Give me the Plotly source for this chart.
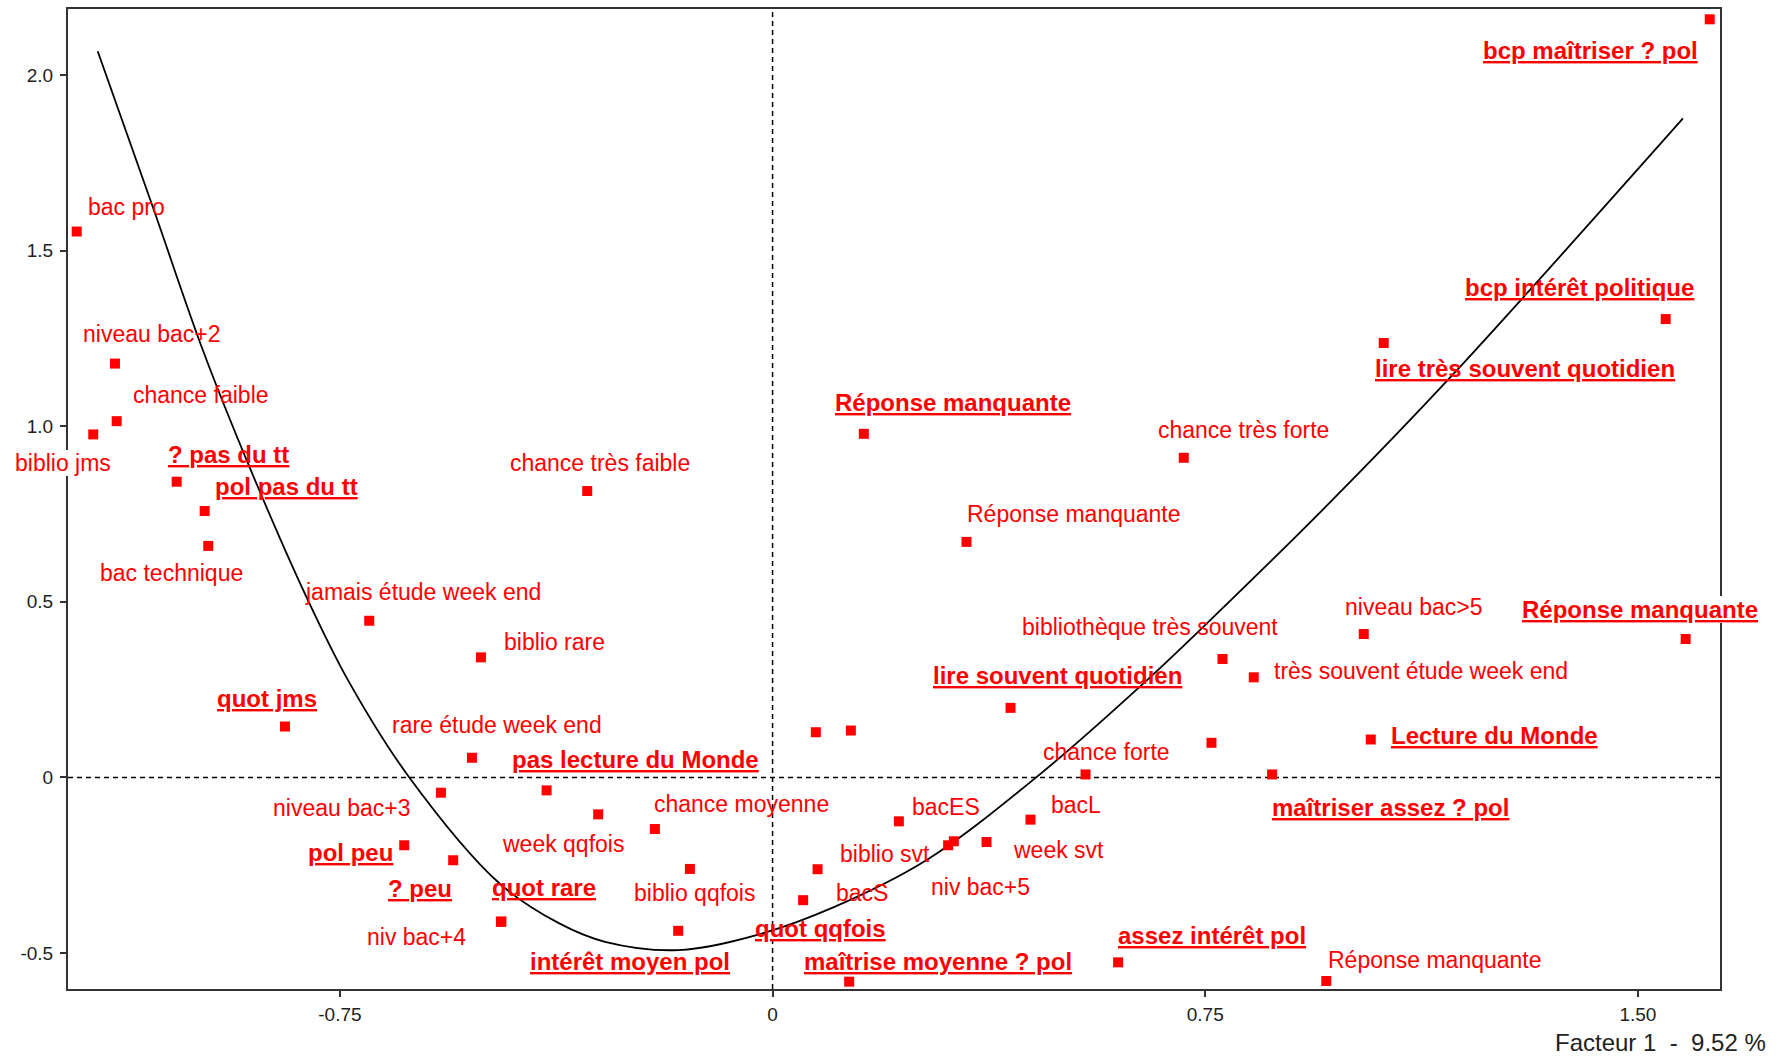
import plotly.graph_objects as go

# ---------------- data ----------------
# active variables (bold, underlined labels)
act_labels = ["? pas du tt", "pol pas du tt", "quot jms", "pas lecture du Monde", "pol peu",
              "? peu", "quot rare", "intérêt moyen pol", "Réponse manquante", "quot qqfois",
              "maîtrise moyenne ? pol", "lire souvent quotidien", "maîtriser assez ? pol",
              "assez intérêt pol", "lire très souvent quotidien", "Réponse manquante",
              "Lecture du Monde", "bcp intérêt politique", "bcp maîtriser ? pol"]
act_x = [-1.0329, -0.9844, -0.8452, -0.3917, -0.6385, -0.5536, -0.4700, -0.1636, 0.1582, 0.0530,
         0.1328, 0.4125, 0.8659, 0.5990, 1.0594, 1.5828, 1.0369, 1.5482, 1.6245]
act_y = [0.8418, 0.7585, 0.1449, -0.0369, -0.1932, -0.2358, -0.4100, -0.4366, 0.9781, -0.3494,
         -0.5815, 0.1980, 0.0085, -0.5264, 1.2367, 0.3940, 0.1080, 1.3048, 2.1582]

# illustrative variables (plain labels)
sup_labels = ["bac pro", "niveau bac+2", "chance faible", "biblio jms", "bac technique",
              "jamais étude week end", "chance très faible", "biblio rare", "rare étude week end",
              "niveau bac+3", "niv bac+4", "week qqfois", "chance moyenne", "biblio qqfois",
              "", "", "bacS", "Réponse manquante", "chance très forte",
              "bibliothèque très souvent", "très souvent étude week end", "", "chance forte",
              "bacES", "bacL", "biblio svt", "niv bac+5", "week svt", "Réponse manquante",
              "niveau bac>5"]
sup_x = [-1.2062, -1.1399, -1.1369, -1.1775, -0.9782, -0.6991, -0.3213, -0.5055, -0.5211,
         -0.5749, -0.4709, -0.3023, -0.2040, -0.1433, 0.0750, 0.1357, 0.0780, 0.3362, 0.7128,
         0.7799, 0.8341, 0.7608, 0.5425, 0.2189, 0.4471, 0.3043, 0.3142, 0.3709, 0.9598, 1.0248]
sup_y = [1.5540, 1.1781, 1.0142, 0.9764, 0.6591, 0.4460, 0.8153, 0.3418, 0.0560,
         -0.0435, -0.4111, -0.1051, -0.1469, -0.2605, 0.1287, 0.1335, -0.2614, 0.6705, 0.9099,
         0.3372, 0.2849, 0.0986, 0.0085, -0.1250, -0.1202, -0.1932, -0.1818, -0.1838, -0.5795, 0.4082]

# fitted curve, points
curve_x = [-1.1698, -1.0735, -0.9868, -0.9088, -0.8076, -0.7355, -0.6303, -0.4731, -0.3697,
           -0.2903, -0.1631, -0.0279, 0.1073, 0.2664, 0.4575, 0.6482, 0.7636, 0.9658, 1.1738,
           1.5781]
curve_y = [2.0673, 1.6202, 1.2131, 0.8920, 0.5122, 0.2756, 0.0014, -0.3020, -0.4156,
           -0.4679, -0.4915, -0.4489, -0.3685, -0.2358, 0.0009, 0.2756, 0.4554, 0.7821, 1.1372,
           1.8759]

x_ticks = [-0.75, 0, 0.75, 1.50]
x_tick_text = ["-0.75", "0", "0.75", "1.50"]
y_ticks = [-0.5, 0, 0.5, 1.0, 1.5, 2.0]
y_tick_text = ["-0.5", "0", "0.5", "1.0", "1.5", "2.0"]
axis_title = "Facteur 1\u00a0\u00a0-\u00a0\u00a09.52 %"

# ---------------- layout / label placement (pixels) ----------------
act_offsets = [(-8.7, -27.7), (10.3, -24), (-68.3, -28), (-35, -31), (-96.3, 7.7),
               (-65.3, 28), (-9.3, -34.4), (-148.3, 31), (-29, -31), (-48.3, 28.3),
               (-45.3, -20), (-77.7, -32.7), (-0.6, 32.7), (-0.6, -27.3), (-9, 25),
               (-163.7, -30), (20.7, -4), (-200.3, -31.7), (-226.7, 31)]
sup_offsets = [(11.3, -25), (-32, -30), (16, -26), (-78.3, 28.4), (-108.3, 26.7),
               (-64.3, -28.3), (-77.3, -28.3), (23, -15), (-80.3, -32.3),
               (-168, 15.7), (-134.3, 15), (-96.6, 29.3), (-0.7, -25.4), (-55.7, 23.6),
               (0, 0), (0, 0), (18, 24), (0.6, -28.3), (-25.7, -27.7),
               (-200, -31.6), (20.3, -6.7), (0, 0), (-43, -22.3),
               (13.3, -14.3), (21, -14.3), (-108.3, 8.3), (-23.3, 45.7), (26, 8.3), (2, -21),
               (-19, -26.6)]
act_white_bg = {15}
sup_white_bg = {3}

RED = "#ff0000"
FONT = "Liberation Sans, Arial, sans-serif"
X_RANGE = [-1.2213, 1.6423]
Y_RANGE = [-0.6023, 2.1875]

fig = go.Figure()

fig.add_trace(go.Scatter(x=curve_x, y=curve_y, mode="lines",
                         line=dict(color="black", width=1.8, shape="spline", smoothing=1.0),
                         hoverinfo="skip", showlegend=False))
fig.add_trace(go.Scatter(x=sup_x, y=sup_y, mode="markers", text=sup_labels,
                         marker=dict(symbol="square", size=10, color=RED),
                         showlegend=False))
fig.add_trace(go.Scatter(x=act_x, y=act_y, mode="markers", text=act_labels,
                         marker=dict(symbol="square", size=10, color=RED),
                         showlegend=False))

annotations = []
for i, (lab, x, y, (dx, dy)) in enumerate(zip(sup_labels, sup_x, sup_y, sup_offsets)):
    if not lab:
        continue
    annotations.append(dict(x=x, y=y, xref="x", yref="y", text=lab, showarrow=False,
                            xanchor="left", yanchor="middle", xshift=dx, yshift=-dy,
                            borderpad=0, borderwidth=0,
                            bgcolor="white" if i in sup_white_bg else "rgba(0,0,0,0)",
                            font=dict(family=FONT, size=23, color=RED)))
for i, (lab, x, y, (dx, dy)) in enumerate(zip(act_labels, act_x, act_y, act_offsets)):
    annotations.append(dict(x=x, y=y, xref="x", yref="y", text=lab, showarrow=False,
                            xanchor="left", yanchor="middle", xshift=dx, yshift=-dy,
                            borderpad=0, borderwidth=0,
                            bgcolor="white" if i in act_white_bg else "rgba(0,0,0,0)",
                            font=dict(family=FONT, size=24, color=RED, weight="bold",
                                      lineposition="under")))
annotations.append(dict(x=1, y=0, xref="paper", yref="paper", text=axis_title, showarrow=False,
                        xanchor="right", yanchor="middle", xshift=48, yshift=-53,
                        font=dict(family=FONT, size=24, color="#222222")))

shapes = [
    dict(type="line", xref="x", yref="paper", x0=0, x1=0, y0=0, y1=1, layer="below",
         line=dict(color="black", width=1.5, dash="5px,4px")),
    dict(type="line", xref="paper", yref="y", x0=0, x1=1, y0=0, y1=0, layer="below",
         line=dict(color="black", width=1.5, dash="5px,4px")),
]

axis_common = dict(showgrid=False, zeroline=False, showline=True, linecolor="#333333",
                   linewidth=2, mirror=True, ticks="outside", ticklen=6, tickwidth=1.5,
                   tickcolor="#333333", tickfont=dict(family=FONT, size=19, color="#222222"))

fig.update_layout(
    width=1787, height=1057,
    margin=dict(l=68, r=67, t=7, b=68),
    paper_bgcolor="white", plot_bgcolor="white",
    xaxis=dict(range=X_RANGE, tickmode="array", tickvals=x_ticks, ticktext=x_tick_text,
               ticklabelstandoff=1, **axis_common),
    yaxis=dict(range=Y_RANGE, tickmode="array", tickvals=y_ticks, ticktext=y_tick_text,
               ticklabelstandoff=3, **axis_common),
    xaxis2=dict(range=X_RANGE, overlaying="x", anchor="y", side="bottom", showgrid=False,
                zeroline=False, showline=False, tickmode="array", tickvals=x_ticks,
                ticks="inside", ticklen=6, tickwidth=1.5, tickcolor="#333333",
                showticklabels=False),
    yaxis2=dict(range=Y_RANGE, overlaying="y", anchor="x", side="left", showgrid=False,
                zeroline=False, showline=False, tickmode="array", tickvals=y_ticks,
                ticks="inside", ticklen=6, tickwidth=1.5, tickcolor="#333333",
                showticklabels=False),
    annotations=annotations,
    shapes=shapes,
    showlegend=False,
)

fig.write_html("out.html", config={"displayModeBar": False},
               post_script="document.body.style.margin='0px';document.body.style.overflow='hidden';")
